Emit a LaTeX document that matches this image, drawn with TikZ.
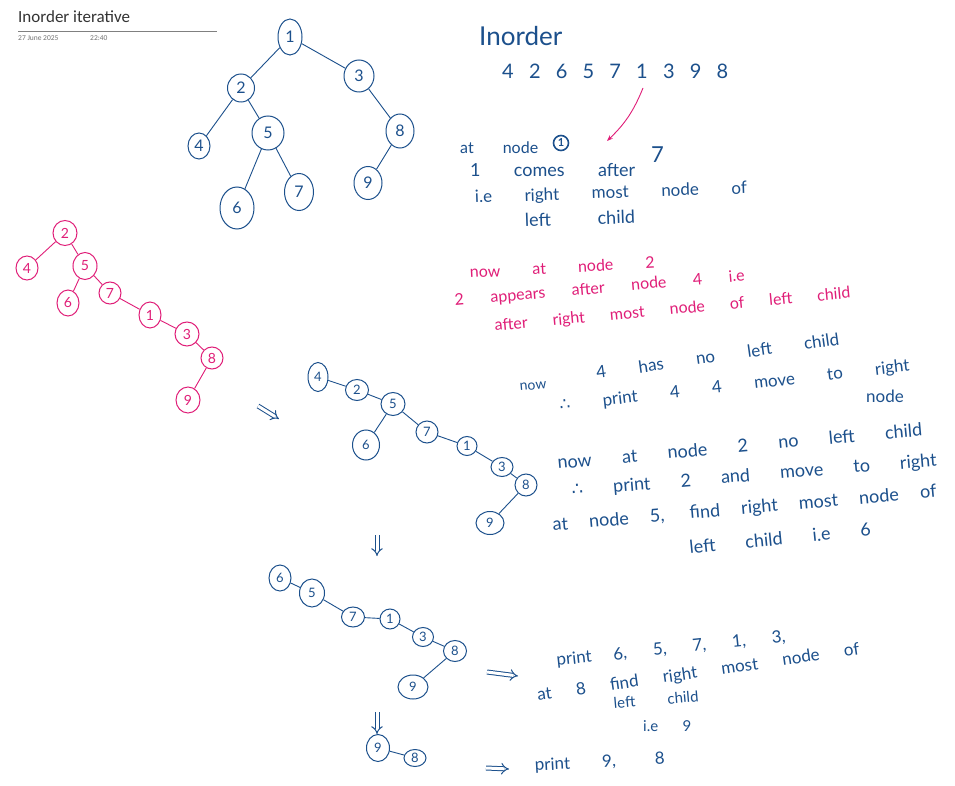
\documentclass[tikz,border=0pt]{standalone}
\usepackage{fontspec}
\setmainfont{Lato}
\newfontfamily\titlefont{Carlito}
\newfontfamily\symfont{DejaVu Sans}
\usetikzlibrary{shapes.geometric,arrows.meta}
\definecolor{ink}{RGB}{28,80,140}
\definecolor{pinkink}{RGB}{224,30,120}
\newcommand{\hw}[2]{\makebox[#1pt][s]{#2}}
\newcommand{\fs}[1]{\fontsize{#1}{#1}\selectfont}
\newcommand{\thf}{{\symfont ∴}}
\begin{document}
\begin{tikzpicture}[x=1pt,y=-1pt,
  tn/.style={draw=ink, ellipse, inner sep=0pt, text=ink, line width=1pt},
  pn/.style={tn, draw=pinkink, text=pinkink},
  edge/.style={draw=ink, line width=0.9pt},
  pedge/.style={edge, draw=pinkink},
  hand/.style={anchor=base west, inner sep=0pt, text=ink},
  phand/.style={hand, text=pinkink},
  dbl/.style={draw=ink, line width=1pt, double distance=3pt, -{Implies}},
  sz/.style n args={2}{minimum width=#1, minimum height=#2}]
\fill[white] (0,0) rectangle (955,786);
\useasboundingbox (0,0) rectangle (955,786);
% header
\node[anchor=base west, inner sep=0pt, text=black!80, font=\titlefont\fs{17}] (title) at (18,23) {Inorder iterative};
\draw[black!50, line width=0.8pt] (18,31) coordinate (hl) -- (217,31) coordinate (hr);
\node[anchor=base west, inner sep=0pt, text=black!55, font=\titlefont\fs{7.5}] (date) at (18,41) {27 June 2025};
\node[anchor=base west, inner sep=0pt, text=black!55, font=\titlefont\fs{7.5}] (time) at (90,41) {22:40};

% top tree
\begin{scope}[every node/.append style={font=\fs{16}}]
\node[tn, sz={24}{36}] (t1) at (290,37) {1};
\node[tn, sz={27}{28}] (t2) at (241,88) {2};
\node[tn, sz={30}{32}] (t3) at (359,76) {3};
\node[tn, sz={22}{26}] (t4) at (199,146) {4};
\node[tn, sz={32}{34}] (t5) at (268,133) {5};
\node[tn, sz={28}{34}] (t8) at (400,131) {8};
\node[tn, sz={34}{42}] (t6) at (237,208) {6};
\node[tn, sz={29}{37}] (t7) at (299,192) {7};
\node[tn, sz={28}{33}] (t9) at (368,183) {9};
\end{scope}
\draw[edge] (t1) -- (t2); \draw[edge] (t1) -- (t3);
\draw[edge] (t2) -- (t4); \draw[edge] (t2) -- (t5);
\draw[edge] (t5) -- (t6); \draw[edge] (t5) -- (t7);
\draw[edge] (t3) -- (t8); \draw[edge] (t8) -- (t9);

% pink tree
\begin{scope}[every node/.append style={font=\fs{14}}]
\node[pn, sz={24}{25}] (p2) at (65,233) {2};
\node[pn, sz={22}{24}] (p4) at (27,268) {4};
\node[pn, sz={24}{27}] (p5) at (85,266) {5};
\node[pn, sz={22}{26}] (p6) at (68,303) {6};
\node[pn, sz={22}{22}] (p7) at (110,293) {7};
\node[pn, sz={22}{26}] (p1) at (150,315) {1};
\node[pn, sz={24}{24}] (p3) at (187,334) {3};
\node[pn, sz={22}{22}] (p8) at (212,358) {8};
\node[pn, sz={24}{26}] (p9) at (188,400) {9};
\end{scope}
\draw[pedge] (p2) -- (p4); \draw[pedge] (p2) -- (p5);
\draw[pedge] (p5) -- (p6); \draw[pedge] (p5) -- (p7);
\draw[pedge] (p7) -- (p1); \draw[pedge] (p1) -- (p3);
\draw[pedge] (p3) -- (p8); \draw[pedge] (p8) -- (p9);

% arrow 1
\coordinate (a1s) at (258,406); \coordinate (a1e) at (279,419);
\draw[dbl] (a1s) -- (a1e);

% blue tree 2
\begin{scope}[every node/.append style={font=\fs{13}}]
\node[tn, sz={20}{29}] (b4) at (318,377) {4};
\node[tn, sz={23}{21}] (b2) at (357,390) {2};
\node[tn, sz={24}{23}] (b5) at (393,404) {5};
\node[tn, sz={27}{30}] (b6) at (366,445) {6};
\node[tn, sz={22}{22}] (b7) at (427,432) {7};
\node[tn, sz={20}{19}] (b1) at (467,446) {1};
\node[tn, sz={22}{19}] (b3) at (502,467) {3};
\node[tn, sz={22}{22}] (b8) at (526,485) {8};
\node[tn, sz={28}{23}] (b9) at (490,523) {9};
\end{scope}
\draw[edge] (b4) -- (b2); \draw[edge] (b2) -- (b5);
\draw[edge] (b5) -- (b6); \draw[edge] (b5) -- (b7);
\draw[edge] (b7) -- (b1); \draw[edge] (b1) -- (b3);
\draw[edge] (b3) -- (b8); \draw[edge] (b8) -- (b9);

% down arrow 1
\coordinate (d1s) at (377,535); \coordinate (d1e) at (377,556);
\draw[dbl] (d1s) -- (d1e);

% blue tree 3
\begin{scope}[every node/.append style={font=\fs{13}}]
\node[tn, sz={22}{26}] (c6) at (280,578) {6};
\node[tn, sz={25}{28}] (c5) at (312,593) {5};
\node[tn, sz={23}{20}] (c7) at (353,617) {7};
\node[tn, sz={20}{20}] (c1) at (390,619) {1};
\node[tn, sz={21}{19}] (c3) at (423,637) {3};
\node[tn, sz={23}{21}] (c8) at (455,651) {8};
\node[tn, sz={30}{24}] (c9) at (413,687) {9};
\end{scope}
\draw[edge] (c6) -- (c5); \draw[edge] (c5) -- (c7);
\draw[edge] (c7) -- (c1); \draw[edge] (c1) -- (c3);
\draw[edge] (c3) -- (c8); \draw[edge] (c8) -- (c9);

% down arrow 2
\coordinate (d2s) at (377,712); \coordinate (d2e) at (377,734);
\draw[dbl] (d2s) -- (d2e);

% last pair
\begin{scope}[every node/.append style={font=\fs{13}}]
\node[tn, sz={23}{27}] (e9) at (378,748) {9};
\node[tn, sz={22}{17}] (e8) at (415,758) {8};
\end{scope}
\draw[edge] (e9) -- (e8);

% right arrows
\coordinate (r1s) at (487,672); \coordinate (r1e) at (518,676);
\draw[dbl] (r1s) -- (r1e);
\coordinate (r2s) at (486,768); \coordinate (r2e) at (509,769);
\draw[dbl] (r2s) -- (r2e);

% top text
\node[hand, font=\fs{26}] (inorder) at (479,46) {Inorder};
\node[hand, font=\fs{20}] (seq) at (502,79) {\hw{226}{4 2 6 5 7 1 3 9 8}};
\node[hand, font=\fs{16}] (atnode) at (460,154) {\hw{78}{at node}};
\node[tn, circle, minimum size=15, line width=1.6pt, font=\bfseries\fs{11}] (c1mark) at (561,143) {1};
\node[hand, font=\fs{22}] (seven) at (651,163) {7};
\node[hand, font=\fs{18}] (comes) at (470,177) {\hw{165}{1 comes after}};
\node[hand, font=\fs{17}, rotate=2] (rmost) at (475,203) {\hw{272}{i.e right most node of}};
\node[hand, font=\fs{18}, rotate=2] (lchild) at (525,227) {\hw{110}{left child}};
\coordinate (pas) at (643,88); \coordinate (pae) at (607,141);
\draw[draw=pinkink, line width=0.9pt, -{Stealth[length=6pt]}] (pas) to[bend left=12] (pae);

% pink text
\node[phand, font=\fs{16}, rotate=3] (pk1) at (470,278) {\hw{185}{now at node 2}};
\node[phand, font=\fs{16}, rotate=5] (pk2) at (455,306) {\hw{291}{2 appears after node 4 i.e}};
\node[phand, font=\fs{16}, rotate=5.3] (pk3) at (495,331) {\hw{357}{after right most node of left child}};

% blue middle text
\node[hand, font=\fs{14}, rotate=5] (now1) at (520,391) {\hw{40}{now}};
\node[hand, font=\fs{17}, rotate=8] (has) at (597,379) {\hw{245}{4 has no left child}};
\node[hand, font=\fs{17}, rotate=6.5] (pr4) at (560,411) {\hw{352}{\thf\ print 4 4 move to right}};
\node[hand, font=\fs{17}] (node1) at (866,402) {node};
\node[hand, font=\fs{18}, rotate=5.2] (now2) at (558,469) {\hw{366}{now at node 2 no left child}};
\node[hand, font=\fs{18}, rotate=4.7] (pr2) at (572,496) {\hw{366}{\thf\ print 2 and move to right}};
\node[hand, font=\fs{18}, rotate=5] (at5) at (553,531) {\hw{385}{at node 5, find right most node of}};
\node[hand, font=\fs{18}, rotate=5.7] (lc6) at (690,554) {\hw{182}{left child i.e 6}};

% blue bottom text
\node[hand, font=\fs{17}, rotate=6] (pr6) at (557,666) {\hw{230}{print 6, 5, 7, 1, 3,}};
\node[hand, font=\fs{17}, rotate=8.2] (at8) at (538,701) {\hw{325}{at 8 find right most node of}};
\node[hand, font=\fs{15}, rotate=5] (lc9) at (614,709) {\hw{85}{left child}};
\node[hand, font=\fs{15}] (ie9) at (643,731) {\hw{48}{i.e 9}};
\node[hand, font=\fs{17}, rotate=3] (pr9) at (535,771) {\hw{130}{print 9, 8}};
\end{tikzpicture}
\end{document}
